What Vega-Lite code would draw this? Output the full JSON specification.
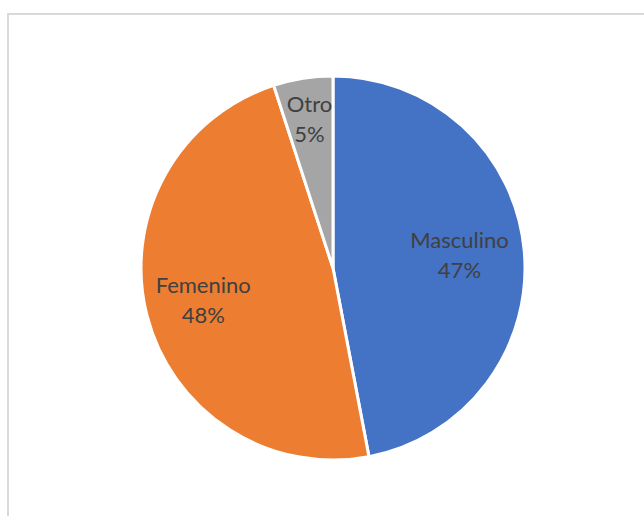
{
  "$schema": "https://vega.github.io/schema/vega-lite/v6.json",
  "autosize": "none",
  "width": 650,
  "height": 508,
  "padding": {"left": 8, "top": 14, "right": 0, "bottom": 0},
  "background": "white",
  "config": {"view": {"stroke": null}},
  "layer": [
    {
      "data": {"values": [{}]},
      "mark": {"type": "rect", "fill": null, "stroke": "#d9d9d9", "strokeWidth": 2},
      "encoding": {}
    },
    {
      "data": {"values": [
        {"genero": "Masculino", "pct": 47, "orden": 1},
        {"genero": "Femenino", "pct": 48, "orden": 2},
        {"genero": "Otro", "pct": 5, "orden": 3}
      ]},
      "transform": [
        {"stack": "pct", "groupby": [], "sort": [{"field": "orden", "order": "ascending"}], "as": ["p0", "p1"]},
        {"calculate": "(datum.p0 + datum.p1) / 2", "as": "pmid"},
        {"calculate": "datum.genero + '\\n' + datum.pct + '%'", "as": "etiqueta"}
      ],
      "layer": [
        {
          "mark": {"type": "arc", "outerRadius": 192, "stroke": "white", "strokeWidth": 3},
          "encoding": {
            "theta": {"field": "p0", "type": "quantitative", "scale": {"domain": [0, 100]}},
            "theta2": {"field": "p1"},
            "color": {"field": "genero", "type": "nominal",
              "scale": {"domain": ["Masculino", "Femenino", "Otro"], "range": ["#4472C4", "#ED7D31", "#A5A5A5"]},
              "legend": null}
          }
        },
        {
          "mark": {"type": "text", "font": "Lato", "fontSize": 22, "color": "#404040", "lineBreak": "\n", "lineHeight": 30, "align": "center", "baseline": "middle", "dy": -15},
          "encoding": {
            "theta": {"field": "pmid", "type": "quantitative", "scale": {"domain": [0, 100]}},
            "radius": {"field": "orden", "type": "quantitative",
              "scale": {"type": "linear", "zero": false, "domain": [1, 2, 3], "range": [127, 134, 150]}},
            "text": {"field": "etiqueta", "type": "nominal"}
          }
        }
      ]
    }
  ]
}
